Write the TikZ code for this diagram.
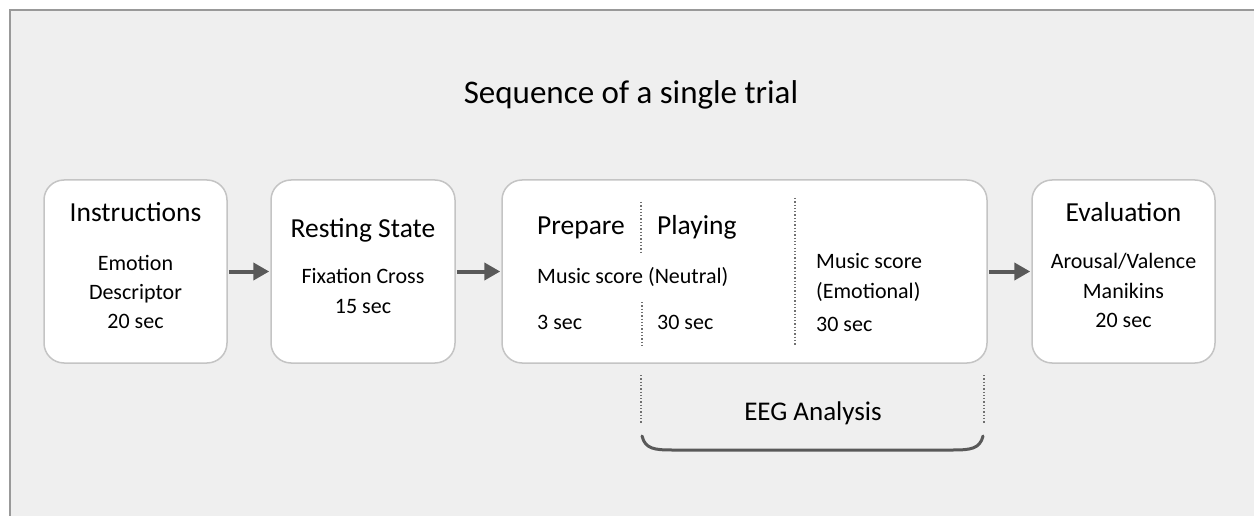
\documentclass[tikz,border=0pt]{standalone}
\usepackage{fontspec}
\setmainfont{Carlito}
\usetikzlibrary{arrows.meta}
\definecolor{bg}{HTML}{EFEFEF}
\definecolor{frame}{HTML}{999999}
\definecolor{boxline}{HTML}{C4C4C4}
\definecolor{arrowc}{HTML}{595959}
\definecolor{dotc}{HTML}{707070}
\tikzset{
  box/.style={draw=boxline, line width=1.5pt, fill=white, rounded corners=20pt, inner sep=0pt},
  arr/.style={draw=arrowc, line width=4pt, -{Triangle[length=16pt,width=17pt]}, shorten >=1pt, shorten <=1pt},
  head/.style={font=\fontsize{27.5}{32}\selectfont, anchor=base, inner sep=0pt},
  body/.style={font=\fontsize{22}{26}\selectfont, anchor=base, inner sep=0pt},
  bodyl/.style={font=\fontsize{22}{26}\selectfont, anchor=base west, inner sep=0pt},
  headl/.style={font=\fontsize{27.5}{32}\selectfont, anchor=base west, inner sep=0pt},
  sep/.style={draw=dotc, line width=1.3pt, dotted},
  brace/.style={draw=arrowc, line width=3pt, line cap=round}
}
\begin{document}
\begin{tikzpicture}[x=1pt,y=-1pt]
\useasboundingbox (0,0) rectangle (1254,516);
\fill[white] (0,0) rectangle (1254,516);
\fill[bg] (10,11) rectangle (1254,516);
\draw[frame, line width=2pt] (9.5,516) -- (9.5,10.5) -- (1254,10.5);

\node[font=\fontsize{33}{38}\selectfont, anchor=base, inner sep=0pt] (title) at (631,104) {Sequence of a single trial};

% boxes
\node[box, minimum width=183pt, minimum height=183pt] (b1) at (135.5,271.5) {};
\node[box, minimum width=184pt, minimum height=183pt] (b2) at (363,271.5) {};
\node[box, minimum width=485pt, minimum height=183pt] (b3) at (744.5,271.5) {};
\node[box, minimum width=183pt, minimum height=183pt] (b4) at (1123.5,271.5) {};

% arrows
\draw[arr] (b1) -- (b2);
\draw[arr] (b2) -- (b3);
\draw[arr] (b3) -- (b4);

% box 1
\node[head] (t1) at (135.5,222) {Instructions};
\node[body] (t1a) at (135.5,270) {Emotion};
\node[body] (t1b) at (135.5,299) {Descriptor};
\node[body] (t1c) at (135.5,328) {20 sec};

% box 2
\node[head] (t2) at (363,237) {Resting State};
\node[body] (t2a) at (363,283) {Fixation Cross};
\node[body] (t2b) at (363,313) {15 sec};

% box 3
\node[headl] (t3a) at (537,234) {Prepare};
\node[headl] (t3b) at (657,234) {Playing};
\node[bodyl] (t3c) at (537,283) {Music score (Neutral)};
\node[bodyl] (t3d) at (537,329) {3 sec};
\node[bodyl] (t3e) at (657,329) {30 sec};
\node[bodyl] (t3f) at (816,269) {Music score};
\node[bodyl] (t3g) at (816,298) {(Emotional)};
\node[bodyl] (t3h) at (816,331) {30 sec};
\coordinate (d1a) at (641,202);
\coordinate (d1b) at (641,254);
\coordinate (d2a) at (642,302);
\coordinate (d2b) at (642,347);
\coordinate (d3a) at (795,198);
\coordinate (d3b) at (795,346);
\draw[sep] (d1a) -- (d1b);
\draw[sep] (d2a) -- (d2b);
\draw[sep] (d3a) -- (d3b);

% box 4
\node[head] (t4) at (1123.5,222) {Evaluation};
\node[body] (t4a) at (1123.5,268) {Arousal/Valence};
\node[body] (t4b) at (1123.5,298) {Manikins};
\node[body] (t4c) at (1123.5,327) {20 sec};

% EEG analysis
\coordinate (e1a) at (641,375);
\coordinate (e1b) at (641,423);
\coordinate (e2a) at (984,375);
\coordinate (e2b) at (984,423);
\draw[sep] (e1a) -- (e1b);
\draw[sep] (e2a) -- (e2b);
\node[font=\fontsize{27}{31}\selectfont, anchor=base, inner sep=0pt] (eeg) at (813,420) {EEG Analysis};
\coordinate (bl) at (642,436);
\coordinate (br) at (983,436);
\draw[brace] (bl) .. controls (645,449) and (655,450) .. (672,450) -- (953,450) .. controls (970,450) and (980,449) .. (br);
\end{tikzpicture}
\end{document}
